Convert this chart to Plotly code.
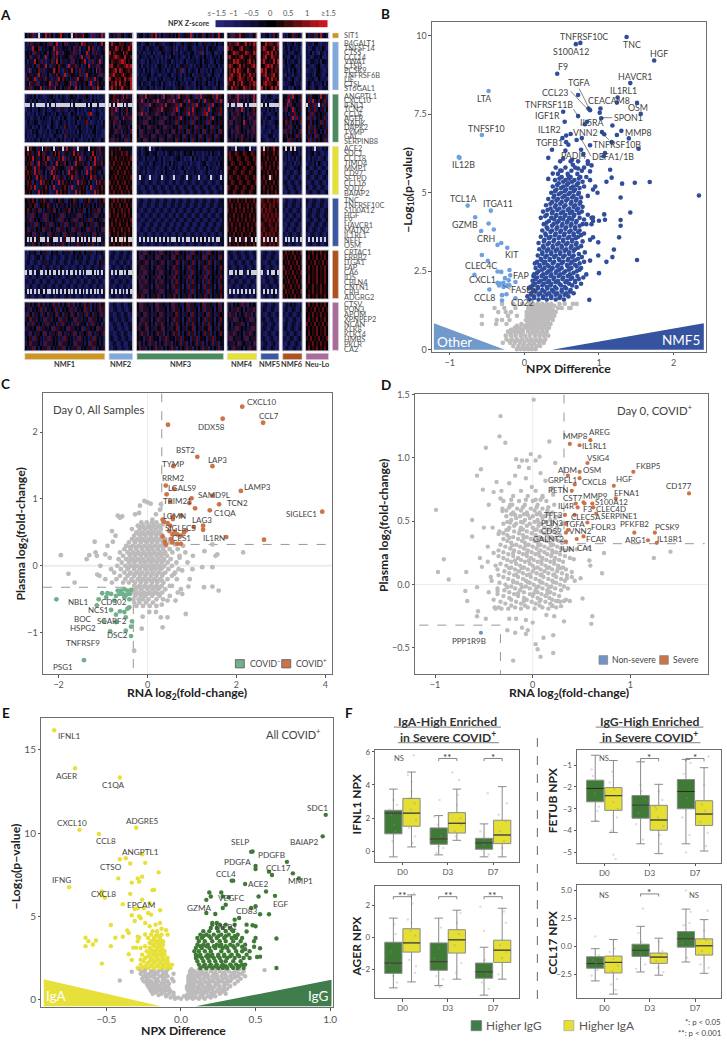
import plotly.graph_objects as go

W, H = 727, 1041
FONT = "Lato"
TXT = "#444444"
GREY = "#bdbbbc"

# ---------- Panel A data ----------
nmf_names = ["NMF1", "NMF2", "NMF3", "NMF4", "NMF5", "NMF6", "Neu-Lo"]
nmf_cols = ["#cc9420", "#7fa8dc", "#4a8a5e", "#e8e02f", "#3a57a0", "#b0521f", "#a96b9b"]
npx_levels = [-1.5, -1.25, -1, -0.75, -0.5, -0.25, 0, 0.25, 0.5, 0.75, 1, 1.25, 1.5]
npx_ticks = ["≤−1.5", "−1", "−0.5", "0", "0.5", "1", "≥1.5"]
digit_z = [-1.5, -1.2, -.9, -.6, -.3, -.05, .15, .4, .75, 1.3]

genes_sit = ["SIT1"]
genes_lblue = ["B4GALT1", "TNFSF14", "CTSS", "CCL14", "VWA1", "CTSB", "PCSK9", "TNFRSF6B", "LIF", "CTSL", "ST6GAL1"]
genes_green = ["ANGPTL1", "CXCL10", "IFNL1", "TCN2", "CCL8", "AGER", "NADK", "DAPK2", "TYMP", "GAL", "SERPINB8"]
genes_yellow = ["ACE2", "SDC1", "CCL18", "TIMD4", "MMP1", "CD97", "SFTPD", "CCL16", "SOD2", "BAIAP2"]
genes_blue = ["TNC", "TNFRSF10C", "S100A12", "HGF", "F9", "HAVCR1", "MATN2", "IL1RL1", "NEFL", "OSM"]
genes_orange = ["CRTAC1", "ERBB2", "ITGA1", "FAP", "CA6", "IDS", "CBLN4", "CNTN1", "CRH", "ADGRG2"]
genes_purple = ["CTSV", "PON3", "APOM", "XPNPEP2", "NCAN", "KLK8", "KLK14", "HMBS", "PKLR", "CA2"]

heat_sit = ["5247813.26493851347963251.48372965308172492 342718451363 2451362849315237436158234739162448253716395324 528173964371258 324513862 2315482743 62371849352"]
heat_lblue = [
"3148247354362814793258136342759384374216395 597468785378 3412452314472133452411362344325214732341523412 587389467958698 569788479 3412351343 23314521332",
"2372945816343549317264431582704336958241347 674985866797 2325314432256312341704231354213332614534312243 978465896736587 798567948 2431533241 31244132531",
"4425183742461538492714563382715349261783345 958764597856 3241322513214623351324134324513280412351132415 657988476987598 478979586 3352214431 32513204313",
"3518347146293531784246538173429531864274315 768987569468 1533243162231413154324312415331342523143425313 896576897458767 689569877 4321451323 33124435112",
"4163395728313482695173342816357394128363925 587678998575 3312415323142324513423135133342351443125234412 476989767589685 797476959 2513324413 21443241543",
"3734251864394127358364192738361425937318264 896587478989 2514324231453314243512443731324352341323514243 798567958476897 568989478 1432453123 43213452132",
"3291435827134649258317364952383174362593174 678959856787 2341524123353241342143802513431522324153231442 685979876597468 979568687 3341425314 12331453213",
"1537362948325173684329173563482719543462817 789476897568 1423345134213324512343142435132732431352214323 589768958479786 789478957 2153314323 33421543124",
"2846391375284313729586341372954618372943561 965878569789 3341253231435132343153241323513342143524133214 798658987587965 478959786 3421352134 13342153231",
"3592738146345927184336579218436375192348536 587969478659 2514331442351432131435233143215342351324153324 876958697468798 689787569 1323451332 25314332514",
"3718264495173832964157382639415327368149352 796857986769 1342352241331523341234753123314253133421352213 659787569878587 968579697 3341215343 34213521343",
]
heat_green = [
"1334251433123452314243135534133275314241332 458736294837 6283953746261957382619473825318293746582937561 384519271726394 231453123 4628194537 37165539471",
"2431425123314235321343235142353123315243213 578394827463 7392516382937361829374538293746162937461829374 273839362615392 413321354 5719263538 48293615382",
"...3.1.....2.4..3.......5.4......4.5...3... .3.4...5.1.. 6272819353728394637181946272819463628194537 .3..1...4.2.... .4.5..... 6391845372 .37281.3827",
"1324132533142134321732143235142413341253132 683915274853 6382315473829364738291547283936472829164738 372618391625385 324152413 3815392637 61738253716",
"3213241432153423153243312534132341892354213 482736153837 7193826371836253718362537193826371893253718 261738352617383 143213352 6251738362 57183635371",
"3341243142533142331425313324514243152334132 572816393728 5362718353627183536271935362718353627193536 153827361538273 332451233 4736291837 38271635382",
"1432354124332153213532413325133278312342315 368271536372 6371825363718253637182536371825363718253637 381627359362381 413312354 5827163538 47163538271",
"2334132513340253314238421331452331342512334 751628373615 7253618372536183725361837253618372536183725 273618352736183 214332143 6371835263 58271635372",
"3231435213324133253413231324153231324513321 463827153638 5183627351836273518362735183627351836273518 361728353617283 133214323 2837163528 61738352617",
"4132315324133214532148241332351423132413312 572635183726 6283735183627351836273518362735183627351836 352617383526173 321354132 4716353827 37261835372",
"2313243152331432135241323415321332415332153 381726351827 7351836273518362735183627351836273518362735 173625384736253 432133413 5618273635 48172635381",
]
heat_yellow = [
"7.4865273.48725.4376.2964381.37264.536728 4763685 241352.31452 3412.432154.31324.152314.132432153142.3124.32 7.6857964786875 6.54.7.32 3241.32143 .2314.3254.",
"5847263958174326958317432695831743269583174 685746857863 3413452345132413543134135345142331324153314 785687568756875 685746857 2341353423 32451342132",
"7586947263859172638491726358491726385941726 576857685768 2431423315324133213345231320514231342133243 687568756875687 576857685 3241324135 31423312341",
"4758162947385316294738531629473853162947385 768576857685 3213341253324132514332133241332134512332415 568756875687568 768576857 1243241324 13324153213",
"8576293847531829374653182937465318293746531 485768576857 1342413342133253134241352313342133152423134 875687568756875 857685768 2433124352 43124312431",
"6857394823516293843516293748351629384753162 657685768576 2431412331324153321433125133243312341233241 756875687568756 576857685 3312431243 12431243124",
"7685339482716359382471635938247163593824716 576857685768 2.3421.32134.13421.321342.34213.32134.1342.3 687568756875687 6857.8576 2134213421 34213421342",
"4857162393847516239384751623938475162393847 857685768576 1243124312431243124312431243124312431243124 568756875687568 768576857 3421342134 21342134213",
"5768492337586149233758614923375861492337586 685768576857 3312431243124312431243124312431243124312431 875687568756875 485768576 1342134213 42134213421",
"7685233948576123394857612339485761233948576 768576857685 2431243124312431243124312431243124312431243 756875687568756 576857685 2134213421 13421342134",
]
heat_blue = [
"5736851475836214758362147583621475836214758 578685768576 1342134213421342134213421342134213421342134 685768576857685 876876878 1342134213 42134213421",
"4627581364758362514736251473625147362514736 685768576857 2431243124312431243124312431243124312431243 768576857685768 787687867 2431243124 31243124312",
"5836274815263748152637481526374815263748152 768576857685 3213421342134213421342134213421342134213421 857685768576857 868787686 3213421342 13421342134",
"6271835347182635347182635347182635347182635 857685768576 1243124312431243124312431243124312431243124 576857685768576 787868787 1342134213 24312431243",
"4718263537182635371826353718263537182635371 576857685768 3312431243124312431243124312431243124312431 685768576857685 678787868 3312431243 12431243124",
"5362718353627183536271835362718353627183536 685768576857 2134213421342134213421342134213421342134213 768576857685768 876787687 2134213421 34213421342",
"6183725361837253618372536183725361837253618 768576857685 1342134213421342134213421342134213421342134 857685768576857 787678786 1342134213 42134213421",
"4735183627351836273518362735183627351836273 857685768576 3213421342134213421342134213421342134213421 576857685768576 868787867 3213421342 21342134213",
"4.2.4.47...3.46...1.37..4..2.5.6.4.3..5..3 4.6.7..8.6.. 3.3.4.1.3.4.2.5.1...4.3.3..2.4.3.5.4.1.3.. 5.37.6.38.47.6. 7.8.4.6.8 3.2.3.1.3. 3.3.4.2.1.3",
"5273836152738361527383615273836152738361527 768576857685 2431243124312431243124312431243124312431243 685768576857685 787687868 2431243124 13421342134",
]
heat_orange = [
"2153362153372153362143372153362153372153362 134213421342 6271835362718353627183536271835362718353627 243124312431243 134213421 6857685768 57685768576",
"1342134613421342134213421342634213421342134 243124312431 5182637351826373518263735182637351826373518 134213421342134 243124312 7685768576 68576857685",
"2431243124372431243124312431243124312431673 321342134213 7363825173638251736382517363825173638251736 321342134213421 321342134 5768576857 75768576857",
"3213421342134213421632134213421342134213421 134213421342 6382735163827351638273516382735163827351638 342134213421342 342134213 8576857685 68576857685",
".3..2.43..1.4.3..4.3.1.4..3.3.2.3...4.3.2. 3.1.4..3.4.. 5271836352718363527183635271836352718363527 3..2.4..31.4... .31.4..4. 6857685768 47576857685",
"1243124312431243124312431243124312431243124 312431243124 7381625373816253738162537381625373816253738 124312431243124 124312431 7685768576 58576857685",
"3312431243124312431243124312431243124312431 243124312431 6172835361728353617283536172835361728353617 331243124312431 213421342 5768576857 68576857685",
"2134213421342134213421342134213421342134213 321342134213 5283736152837361528373615283736152837361528 213421342134213 331243124 8576857685 75685768576",
"4.2.3.1.43.3..1.4.2.3.4.1.3.3.4.1.2.4.1.3. 4.3.3.1.2.4. 6371825363718253637182536371825363718253637 4.1.3.2.4.1.3.3 3.4.1.4.2 6857685768 57685768576",
"1342134213421342134213421342134213421342134 134213421342 7482615374826153748261537482615374826153748 134213421342134 124312431 7685768576 68576857685",
]
heat_purple = [
"3716253847162538371625384716253384716253847 124312431243 5817363258173632581736325817363258173632581 271635382716353 134213421 1342634213 68576857685",
"4271635382716353827163538271635382716353827 213421342134 6283735162837351628373516283735162837351628 162738351627383 243124312 2431243124 75768576857",
"2835173628351736283517362835173628351736283 331243124312 7351836237518362375183623751836237518362375 383716253837162 321342134 3213421342 57685768576",
"3618372536183725361837253618372536183725361 342134213421 5382736153827361538273615382736153827361538 437182635371826 342134213 1342134213 68576857685",
"5172836351728363517283635172836351728363517 124312431243 6173835261738352617383526173835261738352617 251637382516373 134213421 2431243124 85768576857",
"2736351827363518273635182736351827363518273 213421342134 7264815372648153726481537264815372648153726 362718353627183 243124312 3421342134 67576857685",
"4381627353816273538162735381627353816273538 331243124312 5383716253837162538371625383716253837162538 173826351738263 321342134 1243124312 58576857685",
"3527183634271836342718363427183634271836342 342134213421 6451738264517382645173826451738264517382645 281637352816373 342134213 3312431243 76857685768",
"2618373526183735261837352618373526183735261 124312431243 7162538371625383716253837162538371625383716 437261835372618 134213421 2134213421 57685768576",
"5373816253738162537381625373816253738162537 213421342134 5837162538371625383716253837162538371625383 162837351628373 243124312 1342134213 68576857685",
]

# ---------- Panel B data ----------
b_other = [(-.48,8.24),(-.57,6.84),(-.88,6.14),(-.87,6.11),(-.76,4.59),(-.45,4.43),(-.66,4.22),(-.48,4.02),(-.41,3.83),(-.58,3.78),
 (-.36,3.34),(-.31,3.4),(-.23,3.25),(-.57,3.02),(-.49,2.83),(-.36,2.49),(-.31,2.48),(-.2,2.54),(-.67,2.39),(-.19,2.37),(-.26,2.28),
 (-.12,2.16),(-.36,2.13),(-.32,2.11),(-.28,2.13),(-.23,2.05),(-.2,2.05),(-.47,1.92),(-.3,1.74),(-.24,1.77),(-.3,1.57),(-.12,1.64),
 (-.34,2.05),(-.28,2),(-.21,2.21)]
b_nmf5_single = [(1.37,9.96),(.75,9.77),(.69,9.73),(1.74,9.21),(.44,8.79),(1.42,8.49),(1.25,8.03),(1.24,7.87),(1.51,7.86),(1.56,7.51),(.72,8.11),
 (1.02,7.68),(1.01,7.55),(1.03,7.37),(.88,7.63),(.86,7.68),(.52,7.58),(.72,7.44),(.54,7.26),(1.18,7.14),(1.3,6.97),(1.24,6.84),(1.04,6.93),
 (1.07,6.86),(.84,7.26),(.81,7.18),(1.4,6.73),(1.53,6.4),(1.17,6.61),(.56,6.82),(.62,6.87),(.7,6.68),(.77,6.74),(.51,6.74),(.56,6.61),(.59,6.53),
 (.37,6.37),(.55,6.34),(.76,6.37),(.88,6.51),(1.08,6.26),(1.06,6.16),(.32,6.11),(.52,6.08),(.79,6.23),(.64,6.05),(.65,5.89),(.85,5.92),(.9,5.87),
 (.48,5.71),(.38,5.61),(.32,5.44),(.88,5.68),(.59,5.53),(.72,5.77),(1.15,5.73),(1.17,5.48),(1.1,5.35),(1.31,5.29),(1.48,5.32),(1.68,5.34),(2.34,4.91),
 (1.29,4.85),(1.42,4.37),(1.27,3.58),(1.51,2.86),(1.2,3.19),(1.18,2.95),(1.1,2.8),(1.29,4.13),(1.29,3.95),(1.07,4.31),(1.08,4.14),(1.0,4.11),(.87,1.59),
 (1,2.44),(.92,3.58),(.99,3),(.88,2.84),(.9,4),(.92,4.21),(.99,3.42)]
b_nmf5_rows = {
1.6:[.07,.19,.3,.42,.53],1.7:[.04,.13,.25,.36,.48,.59],1.8:[.09,.21,.33,.44,.56,.66],1.9:[.12,.24,.37,.5,.62],2.0:[.08,.18,.3,.41,.54,.7],
2.1:[.14,.26,.36,.47,.6,.76],2.2:[.11,.22,.33,.45,.57,.68],2.3:[.17,.29,.4,.52,.64,.79],2.4:[.13,.25,.36,.48,.61,.83],2.5:[.19,.32,.43,.55,.7],
2.6:[.15,.27,.38,.5,.63,.76],2.7:[.2,.31,.45,.57,.68],2.8:[.17,.28,.4,.52,.64,.8],2.9:[.22,.34,.46,.59,.72],3.0:[.18,.3,.42,.54,.66],
3.1:[.24,.36,.48,.6,.81],3.2:[.2,.32,.44,.56,.68],3.3:[.25,.38,.5,.63,.76],3.4:[.19,.33,.46,.58,.7],3.5:[.27,.4,.52,.64,.88],
3.6:[.22,.35,.47,.6,.72],3.7:[.28,.42,.54,.66,.8],3.8:[.24,.37,.49,.62,.74],3.9:[.3,.44,.56,.68],4.0:[.26,.39,.51,.63,.78,.83],
4.1:[.33,.46,.58,.7,.92],4.2:[.22,.36,.48,.6,.74,.9],4.3:[.3,.43,.55,.67,.85],4.4:[.25,.38,.52,.64,.77],4.5:[.35,.47,.6,.72],
4.6:[.29,.42,.55,.68],4.7:[.37,.5,.63,.75],4.8:[.32,.45,.58,.7],4.9:[.4,.54,.66,.85],5.0:[.36,.49,.61,.73,.98],5.1:[.43,.56,.68,.92],
5.2:[.38,.52,.65,.8,.95],5.3:[.46,.59,.72],5.4:[.41,.55,.67,.88],5.5:[.5,.62,.75,.83],5.6:[.45,.58,.71],5.8:[.42,.55,.68,.8],6.0:[.48,.62,.72,.85],
1.65:[.13,.25,.36,.47],1.75:[.09,.19,.3,.42,.54],1.85:[.15,.27,.39,.5,.61],1.95:[.06,.18,.31,.43,.56],2.05:[.11,.24,.35,.49,.64],2.15:[.19,.31,.42,.55,.68],
2.25:[.15,.27,.39,.51,.62,.73],2.35:[.12,.23,.35,.46,.58,.71],2.45:[.17,.3,.42,.53,.66],2.55:[.24,.36,.47,.6,.74],2.65:[.21,.33,.44,.58,.7],2.75:[.14,.26,.38,.5,.62,.74],
2.85:[.23,.34,.47,.58,.68],2.95:[.28,.4,.52,.64,.77],3.05:[.24,.36,.48,.6,.73],3.15:[.3,.42,.54,.66],3.25:[.26,.38,.5,.62,.72],3.35:[.31,.44,.56,.69],3.45:[.26,.39,.52,.64,.78],
3.55:[.33,.46,.58,.69],3.65:[.29,.41,.53,.66,.76],3.75:[.35,.48,.6,.72],3.85:[.31,.43,.55,.68],3.95:[.37,.5,.62,.74],4.05:[.3,.44,.57,.69],4.15:[.4,.52,.64,.8],
4.25:[.28,.42,.54,.66],4.35:[.37,.49,.61,.73],4.45:[.31,.44,.58,.7],4.55:[.41,.53,.66,.78],4.65:[.35,.48,.62,.74],4.75:[.43,.56,.69],4.85:[.39,.51,.64,.76],4.95:[.46,.59,.72],
5.05:[.41,.54,.66],5.15:[.49,.62,.74],5.25:[.44,.57,.7],5.35:[.52,.64,.78],5.45:[.47,.6,.73],5.7:[.5,.63,.77]}
b_grey_rows = {
.02:[-.1,-.05,0,.05,.1,.15],.12:[-.15,-.08,-.02,.04,.1,.16,.21],.22:[-.19,-.13,-.06,0,.07,.13,.2,.26,-.29],.33:[-.24,-.17,-.1,-.03,.03,.09,.15,.21,.28],
.45:[-.25,-.18,-.12,-.05,.01,.07,.14,.2,.26,.32],.58:[-.22,-.15,-.08,-.02,.05,.11,.17,.24,.3],.7:[-.13,-.06,.02,.08,.14,.2,.26,.33],
.82:[-.38,-.24,-.04,.04,.1,.16,.22,.28,.35,-.57],.95:[-.37,-.3,-.2,.02,.08,.14,.2,.26,.32,.38],1.08:[-.57,-.22,-.1,.03,.09,.15,.21,.27,.33,.4],
1.2:[-.35,-.25,-.18,.03,.1,.16,.22,.28,.34,.42],1.33:[-.4,-.27,-.12,.05,.11,.17,.23,.29,.35,.45,.5,.6,.62],1.46:[-.3,-.15,-.03,.07,.12,.18,.24,.3,.36,.47,.54,.65,.7],
.28:[-.2,-.13,-.07,.06,.12,.18,.24],.52:[-.19,-.11,-.04,.08,.14,.21,.28],.64:[-.18,-.11,-.03,.05,.11,.17,.23,.3],.76:[-.1,0,.05,.11,.19,.24,.3],.88:[.06,.13,.19,.25,.31],
1.02:[.06,.12,.18,.24,.3,.36],1.14:[.06,.13,.19,.25,.31,.37],1.27:[.08,.14,.2,.26,.32,.38],1.4:[.09,.15,.21,.27,.33,.4]}

# ---------- Panel C data ----------
c_covid_pos = [(2.13,2.38),(1.69,2.2),(2.6,2.14),(.46,2.11),(1.12,1.63),(1.46,1.49),(.58,1.49),(2.1,1.12),(1.46,1.05),(.41,1.2),(.6,1.15),(.43,1.07),
 (.99,1.01),(.51,.96),(.94,.94),(1.61,.92),(1.07,.86),(1.4,.83),(3.93,.81),(.56,.74),(.57,.7),(.76,.75),(.34,.69),(.37,.66),(.45,.64),(1.04,.58),
 (1.25,.6),(1.25,.54),(1.77,.43),(2.62,.39),(.34,.44),(.39,.36),(.52,.4),(.56,.47),(.61,.51),(.51,.6),(.82,.5),(.67,.47),(.56,.35),(.67,.33),(.75,.33),
 (.41,.32),(.49,.52),(.75,.45),(.86,.53)]
c_covid_neg = [(-2.05,-.5),(-1.43,-1.41),(-1.14,-.59),(-1.1,-.5),(-1.02,-.41),(-.9,-.41),(-.93,-.47),(-.82,-.42),(-.71,-.45),(-.82,-.66),(-.71,-.73),
 (-.71,-.84),(-.62,-.68),(-.52,-.69),(-.49,-.77),(-.41,-.62),(-.35,-.83),(-.45,-.64),(-.37,-.91),(-.49,-.97),(-.37,-1.05),(-.84,-.98),(-.6,-.37),
 (-.52,-.35),(-.45,-.37),(-.37,-.36),(-.67,-.37),(-.63,-.42),(-.56,-.42),(-.47,-.43),(-.4,-.42),(-.52,-.47),(-.41,-.5),(-.75,-.52),(-.97,-.83)]
c_grey_single = [(-1.95,.16),(-1.78,-.12),(-1.64,-.25),(-1.37,.1),(-1.31,.16),(-1.19,.36),(-1.17,.2),(-1.14,.15),(-1.06,0),(-1.08,-.15),(-1.13,-.13),(-.95,.17),
 (-.78,.36),(-.72,.45),(-.8,.52),(-.67,.75),(-.57,.74),(-.62,.72),(-.07,.97),(0,.95),(.07,.93),(-.17,.9),(-.28,.77),(-.19,.79),(.3,.92),(.28,.84),(.19,.77),(.11,.69),
 (.34,.62),(2.15,.2),(1.57,.17),(1.53,.15),(1.28,.22),(1.02,.15),(1.46,.32),(1.23,-.02),(1.46,-.02),(1.01,-.05),(.78,-.07),(1.46,-.31),(1.6,-.37),(1.27,-.32),
 (.92,-.31),(.75,-.35),(.78,-.42),(.63,-.52),(.45,-.52),(.32,-.58),(.86,-.72),(.34,-.92),(-.13,-.94),(-.3,-1.27),(-.11,-.76),(.04,-.69),(.19,-.69),(.3,-.77),(.45,-.77),
 (-.9,.3),(-.85,.12),(-.82,-.05),(-.95,-.2),(-.8,-.25),(.8,.3),(.9,.05),(.85,.2),(.62,.32),(.72,.12),(.66,-.2),(.6,-.12),(.55,-.3),(.68,-.4),(.95,-.2)]
c_grey_rows = {
-.6:[-.25,-.1,.05,.2],-.55:[-.3,-.18,-.03,.12],-.5:[-.32,-.2,-.1,.02,.2,.35],-.45:[-.28,-.15,-.05,.1,.27,.5],-.4:[-.3,-.2,-.08,.05,.17,.33],
-.35:[-.27,-.14,0,.12,.24,.4],-.3:[-.3,-.18,-.06,.08,.2,.32,.5],-.25:[-.55,-.42,-.28,-.15,-.03,.1,.22,.36],-.2:[-.7,-.5,-.36,-.22,-.1,.02,.15,.28,.45],
-.15:[-.62,-.45,-.3,-.17,-.05,.08,.2,.33,.55],-.1:[-.75,-.52,-.38,-.24,-.12,0,.12,.25,.4,.62],-.05:[-.6,-.45,-.3,-.18,-.05,.07,.18,.3,.47,.7],
0:[-.68,-.5,-.36,-.24,-.1,.02,.14,.26,.38,.55],.05:[-.58,-.42,-.3,-.16,-.05,.08,.2,.32,.45,.65],.1:[-.65,-.48,-.34,-.22,-.1,.02,.13,.25,.37,.52],
.15:[-.55,-.4,-.28,-.15,-.03,.08,.2,.31,.44,.72],.2:[-.62,-.45,-.32,-.2,-.08,.04,.16,.28,.4,.56],.25:[-.52,-.38,-.25,-.12,0,.11,.23,.35,.5,.68],
.3:[-.48,-.33,-.2,-.07,.05,.17,.29,.42],.35:[-.42,-.28,-.15,-.02,.1,.22,.36,.5],.4:[-.35,-.22,-.1,.03,.15,.27,.4],.45:[-.3,-.16,-.04,.08,.2,.32],
.5:[-.25,-.12,.01,.12,.25],.55:[-.35,-.18,-.06,.07,.18,.3],.6:[-.22,-.1,.03,.14,.26],.65:[-.14,-.02,.1,.2],
-.42:[-.24,-.12,0,.13,.24],-.32:[-.22,-.1,.03,.16,.28],-.22:[-.34,-.17,-.05,.08,.2,.32],-.12:[-.4,-.28,-.15,-.02,.1,.22,.34],-.02:[-.42,-.3,-.16,-.03,.1,.22,.34],.08:[-.4,-.26,-.13,0,.11,.23,.35],
.18:[-.36,-.24,-.12,0,.11,.24,.36],.28:[-.4,-.27,-.14,-.01,.11,.23,.35],.38:[-.3,-.18,-.06,.08,.2,.32],.48:[-.2,-.08,.06,.18,.3],.58:[-.14,0,.1,.22]}

# ---------- Panel D data ----------
d_severe = [(.38,1.11),(.59,1.14),(.48,1.1),(.56,.96),(.48,.89),(1.03,.89),(.36,.86),(.48,.84),(.43,.79),(.83,.78),(.4,.74),(1.6,.72),(.85,.68),(.52,.65),(.44,.64),
 (.53,.64),(.61,.64),(.46,.61),(.62,.61),(.65,.56),(.33,.55),(.43,.55),(.34,.48),(.56,.49),(1.04,.41),(1.25,.41),(.36,.43),(.34,.41),(.52,.38),(.45,.36),(.34,.34),(1.18,.35),(1.27,.33)]
d_nonsevere = [(-.53,-.38)]
d_grey_single = [(.01,1.46),(-.33,1.33),(-.34,1.17),(-.28,1.12),(-.48,1.08),(.17,1.13),(-.53,.91),(-.57,.86),(-.51,.75),(-.37,.81),(-.4,.73),(-.99,.59),(-.62,.51),(-.62,.38),(-.54,.21),
 (-.91,.2),(-.97,.1),(-.86,.04),(-.68,.1),(-.69,-.05),(-.67,-.13),(-.57,-.02),(-.57,-.25),(-.56,-.21),(-.48,-.27),(-.39,-.18),(-.38,-.19),(-.32,-.19),(-.26,-.36),(-.18,-.38),(-.24,-.27),
 (-.17,-.27),(-.07,-.28),(0,-.3),(-.11,-.34),(-.07,-.39),(-.05,-.36),(-.2,-.6),(.03,-.47),(.05,-.51),(.08,-.57),(.21,-.54),(.11,-.42),(.21,-.4),(.32,-.29),(.22,-.25),(.14,-.24),(.61,-.25),
 (.6,-.31),(.51,-.11),(.38,-.13),(.32,-.13),(.26,-.13),(.29,-.17),(.2,-.17),(.71,.09),(.73,.25),(1.24,.21),(1.41,.26),(.58,.19),(.59,.15),(.49,.05),(.43,.03),(.35,.05),(.26,.13),(.57,.29),
 (-.02,1.03),(.07,1.01),(-.11,.98),(-.17,.99),(-.06,.98),(.03,.98),(-.14,.93),(-.04,.92),(.23,.96),(.08,.88),(-.07,.84),(-.18,.86),(-.24,.8),(-.01,.77),(.13,.82),(.2,.76),(.21,.71),(.1,.69),
 (.03,.67),(-.33,.68),(-.45,.63),(-.31,.58),(-.41,.45),(-.21,.63),(-.5,.45),(-.46,.3),(-.52,.14),(-.43,.06),(-.38,.15),(-.35,.4),(-.4,.25),(-.36,-.05),(.42,.2),(.4,.1),(.38,.28),(.45,.28)]
d_grey_rows = {
-.18:[-.35,-.18,-.05,.1,.24],-.15:[-.28,-.12,.03,.18],-.12:[-.4,-.22,-.06,.08,.2,.34],-.09:[-.3,-.15,0,.13,.27],-.06:[-.45,-.24,-.09,.05,.18],
-.03:[-.36,-.18,-.03,.1,.23,.36],0:[-.28,-.12,.01,.14,.28],.03:[-.42,-.2,-.07,.07,.2,.33],.06:[-.3,-.15,-.02,.11,.24,.4],.09:[-.24,-.1,.04,.16,.3],
.12:[-.36,-.18,-.05,.08,.2,.34],.15:[-.27,-.13,0,.13,.26],.18:[-.46,-.22,-.08,.05,.18,.31],.21:[-.3,-.15,-.02,.1,.23,.38],.24:[-.25,-.1,.03,.15,.28],
.27:[-.35,-.19,-.05,.08,.2,.33],.3:[-.28,-.13,0,.12,.25],.33:[-.22,-.08,.05,.18,.3],.36:[-.3,-.15,-.02,.1,.23],.39:[-.26,-.1,.03,.15,.28],
.42:[-.34,-.19,-.06,.08,.2],.45:[-.24,-.12,0,.12,.25],.48:[-.3,-.17,-.03,.09,.3],.51:[-.22,-.08,.05,.18],.54:[-.27,-.13,0,.12,.27],.57:[-.2,-.06,.07,.2],
.6:[-.31,-.16,-.02,.1],.63:[-.23,-.08,.05,.22],.66:[-.3,-.14,.0,.14],.7:[-.2,-.05,.1],.74:[-.32,-.12,.03],
-.165:[-.22,-.08,.07,.2],-.135:[-.33,-.17,-.01,.13,.28],-.105:[-.24,-.09,.05,.17],-.075:[-.36,-.19,-.03,.09,.22],-.045:[-.29,-.13,.03,.15,.29],-.015:[-.22,-.07,.06,.19,.32],
.015:[-.34,-.16,-.03,.1,.24],.045:[-.25,-.1,.03,.16,.29],.075:[-.35,-.19,-.06,.08,.21,.35],.105:[-.29,-.14,0,.12,.25],.135:[-.22,-.09,.05,.17,.31],.165:[-.33,-.17,-.03,.09,.22],
.195:[-.26,-.12,.01,.14,.27],.225:[-.35,-.2,-.06,.07,.19,.33],.255:[-.3,-.14,-.01,.12,.24],.285:[-.23,-.09,.04,.16,.29],.315:[-.33,-.17,-.04,.08,.21],.345:[-.26,-.11,.02,.14,.27],
.375:[-.2,-.06,.07,.19],.405:[-.3,-.14,-.01,.12,.24],.435:[-.25,-.1,.04,.16],.465:[-.19,-.06,.06,.19],.495:[-.26,-.12,.02,.14],.525:[-.17,-.03,.1,.23],.555:[-.22,-.09,.04,.16],.585:[-.27,-.12,.02,.15]}
d_grey_fill = {
.02:[-.2,-.05,.08,.21],.08:[-.17,-.03,.09,.22],.13:[-.24,-.11,.02,.15,.28],.19:[-.18,-.04,.09,.22],.25:[-.2,-.06,.06,.2],.31:[-.21,-.07,.06,.19],.37:[-.24,-.09,.05,.17],
.43:[-.27,-.13,.02,.15],.49:[-.23,-.1,.06,.2],.55:[-.18,-.05,.08],.61:[-.24,-.1,.04,.16],.67:[-.22,-.07,.08],-.02:[-.26,-.11,.04,.17],-.07:[-.15,.01,.15],-.13:[-.09,.07,.24],-.19:[-.25,-.12,.02,.16]}

# ---------- Panel E data ----------
e_iga_single = [(-.85,16.17),(-.71,13.89),(-.41,13.33),(-.68,10.2),(-.55,9.94),(-.3,10.32),(-.26,8.73),(-.41,8.43),(-.37,8.49),(-.34,8.17),(-.24,8.21),(-.15,7.64),(-.42,7.28),(-.33,7.02),
 (-.29,7.28),(-.28,7.08),(-.26,7.38),(-.75,6.75),(-.53,6.49),(-.53,6.27),(-.51,6.11),(-.34,6.35),(-.19,6.57),(-.18,6.59),(-.26,6),(-.21,5.79),(-.39,5.73),(-.31,5.44),(-.29,5.48),(-.25,5.48),
 (-.22,5.2),(-.2,5.1),(-.14,5.36),(-.33,5.06),(-.28,5),(-.31,4.72),(-.27,4.88),(-.47,4.48),(-.24,4.6),(-.21,4.4),(-.17,4.5),(-.14,4.6),(-.13,4.25),(-.1,4.17),(-.09,3.9),(-.36,4.15),(-.35,4),
 (-.29,3.77),(-.44,3.71),(-.39,3.77),(-.64,3.71),(-.62,3.51),(-.64,3.21),(-.59,3.31),(-.57,3.55),(-.47,3.21),(-.32,3.12),(-.3,3.12),(-.35,2.72),(-.33,2.38),(-.53,2.16),(-.28,3.71),(-.24,3.91)]
e_iga_rows = {
1.9:[-.29,-.26,-.22,-.18,-.14,-.1,-.07],2.1:[-.27,-.23,-.19,-.15,-.12,-.08,-.06],2.3:[-.25,-.21,-.17,-.13,-.09],2.5:[-.24,-.2,-.16,-.12,-.09],2.7:[-.26,-.19,-.15,-.11],
2.9:[-.23,-.18,-.14,-.11],3.1:[-.27,-.21,-.16,-.13],3.3:[-.19,-.15,-.12],3.5:[-.29,-.2,-.16,-.12],3.7:[-.22,-.18,-.14],3.9:[-.2,-.16,-.13],4.1:[-.19,-.16],
2.0:[-.24,-.2,-.16,-.12,-.09],2.2:[-.22,-.18,-.14,-.1],2.4:[-.27,-.19,-.15,-.11],2.6:[-.22,-.17,-.13],2.8:[-.21,-.17,-.13],3.0:[-.2,-.16,-.12],3.2:[-.24,-.18,-.14],3.4:[-.21,-.17,-.14],3.6:[-.18,-.14],3.8:[-.17,-.15]}
e_igg_single = [(.97,11.09),(.95,9.8),(.47,8.87),(.48,8.89),(.71,8.27),(.5,8.02),(.5,7.84),(.59,7.68),(.61,7.48),(.75,7.58),(.79,7.28),(.34,7.14),(.35,7.14),(.43,6.94),(.57,6.49),(.52,6.19),(.63,6.23),
 (.19,6.43),(.2,6.19),(.27,6.43),(.28,6.19),(.32,6.15),(.17,5.99),(.3,5.69),(.28,5.5),(.5,5.6),(.47,5.5),(.17,5.2),(.23,5.14),(.53,5.12),(.59,5.12),(.39,4.9),(.36,4.8),(.21,4.6),(.24,4.6),(.44,4.5),
 (.48,4.46),(.5,4.4),(.34,4.2),(.44,4.09),(.64,3.67),(.64,1.9),(.5,3.7),(.49,3.5),(.53,3.08),(.49,3.17),(.51,2.56),(.53,2.58),(.43,3.02),(.41,3.17)]
e_igg_rows = {
1.9:[.13,.17,.21,.25,.28,.31,.35,.38,.42],2.1:[.12,.16,.2,.24,.28,.33,.37,.41,.43],2.3:[.11,.15,.19,.23,.27,.3,.35,.4],2.5:[.1,.14,.18,.22,.26,.31,.36,.42,.46],
2.7:[.1,.13,.18,.21,.25,.29,.34,.38,.44],2.9:[.09,.12,.16,.2,.27,.32,.37,.41,.46],3.1:[.1,.14,.19,.23,.28,.31,.36],3.3:[.11,.15,.18,.24,.27,.33,.38,.43],
3.5:[.12,.16,.21,.26,.3,.35,.4],3.7:[.11,.14,.2,.24,.29,.34,.37,.41],3.9:[.13,.17,.22,.27,.32,.38],4.1:[.15,.19,.25,.3,.35],4.3:[.2,.24,.28,.33],4.5:[.21,.26,.3,.36],
2.0:[.15,.19,.23,.27,.3,.34,.39],2.6:[.12,.17,.2,.25,.29,.33,.39],3.2:[.13,.17,.22,.26,.3,.35],3.8:[.15,.19,.25,.3,.36]}
e_grey_rows = {
.05:[-.04,0,.04,.08,.12,.16],.2:[-.1,-.05,.02,.08,.13,.18,.23],.35:[-.19,-.13,-.08,.06,.1,.15,.2,.26,.3],.5:[-.2,-.16,-.11,-.07,.05,.09,.14,.18,.24,.29],
.65:[-.21,-.17,-.12,-.08,.04,.08,.13,.19,.25,.31],.8:[-.22,-.18,-.14,-.09,.04,.09,.15,.2,.26,.33],.95:[-.23,-.19,-.13,-.08,.05,.09,.14,.19,.25,.31,.36],
1.1:[-.25,-.2,-.15,-.09,-.05,.05,.1,.16,.21,.27,.33,.38],1.25:[-.26,-.22,-.16,-.11,-.06,.05,.09,.15,.22,.28,.34,.4],1.4:[-.25,-.2,-.14,-.09,.05,.1,.16,.21,.27,.33,.38,.43],
1.55:[-.27,-.21,-.16,-.1,-.05,.06,.11,.15,.22,.28,.34,.39,.41],1.7:[-.26,-.2,-.15,-.1,.06,.09,.14,.2,.26,.32,.37,.42],1.82:[-.28,-.24,-.18,-.13,-.09,.07,.12,.17,.23,.3,.39],
.12:[-.07,-.02,.06,.1,.15,.2],.28:[-.15,-.1,-.05,.04,.09,.14,.22],.42:[-.17,-.13,-.05,.07,.12,.17,.22,.27],.58:[-.18,-.14,-.09,.06,.11,.16,.21,.27],.72:[-.2,-.15,-.1,.06,.11,.17,.22,.29],
.88:[-.2,-.16,-.11,.07,.12,.18,.23,.29],1.02:[-.22,-.17,-.11,.07,.12,.17,.23,.29],1.18:[-.23,-.17,-.12,.07,.13,.19,.25,.31],1.32:[-.23,-.18,-.12,.07,.12,.18,.24,.3,.36],
1.48:[-.23,-.18,-.12,.08,.13,.18,.24,.3,.36],1.62:[-.24,-.18,-.12,.08,.12,.17,.23,.29,.35]}
e_grey_single = [(-.41,1.15),(-.33,1.67),(.56,1.77)]

# ---------- Panel F data: (q1, median, q3, lower whisker, upper whisker) ----------
ifnl1_box = [(1.05,2.3,2.47,-.34,3.75),(1.51,2.3,3.19,.26,4.78),(.42,.74,1.41,-.22,2.15),(1.1,1.69,2.33,.66,3.75),(.12,.5,.78,-.34,1.65),(.46,.98,1.87,-.34,3.9)]
fetub_box = [(-2.68,-2.07,-1.69,-3.57,-.55),(-3.07,-2.4,-2.03,-4.08,-.79),(-3.43,-2.83,-2.39,-4.6,-.85),(-3.98,-3.51,-2.84,-5.05,-1.88),(-3.0,-2.21,-1.66,-4.6,-.74),(-3.76,-3.24,-2.63,-4.93,-1.12)]
ager_box = [(-2.24,-1.6,-.31,-3.14,1.19),(-.92,-.35,.53,-2.77,2.63),(-2.05,-1.52,-.35,-3.0,1.19),(-.98,-.16,.47,-2.6,1.68),(-2.54,-2.15,-1.6,-3.59,-.62),(-1.56,-.8,-.18,-2.6,1.8)]
ccl17_box = [(-1.95,-1.54,-.92,-3.08,-.2),(-2.37,-1.42,-.86,-4.26,.62),(-.89,-.33,.2,-2.28,1.8),(-1.51,-.95,-.59,-2.57,.74),(-.06,.68,1.33,-1.39,3.34),(-.77,.06,.68,-2.4,2.4)]
ifnl1_strip = [(-.25,2.2),(-.15,1.2),(-.2,3.1),(-.22,.6),(-.18,1.6),(-.12,2.8),(-.28,2.5),(.12,4.6),(.2,3.6),(.27,2.9),(.15,1.4),(.22,.5),(.3,1.9),(.18,2.5),(.25,5.8),(.28,.9),(.2,4.2),(.16,3.2),
 (.8,.3),(.75,-.1),(.85,.9),(.78,1.6),(.9,.2),(.7,2.1),(.82,3.1),(1.15,1.2),(1.2,2.8),(1.3,1.6),(1.25,4.3),(1.18,.9),(1.28,2),(1.22,3.4),(1.1,4.75),(1.75,.1),(1.82,.7),(1.9,-.2),(1.72,1.2),(1.88,3.5),(1.8,.4),
 (2.15,1.2),(2.2,.2),(2.28,1.8),(2.12,2.2),(2.24,.6),(2.3,2.9)]
fetub_strip = [(-.25,-1.5),(-.15,-3.1),(-.2,-2.3),(-.28,-1.2),(-.12,-2.9),(-.18,-3.55),(.12,-1.8),(.2,-2.7),(.28,-3.4),(.15,-4),(.22,-2.1),(.3,-3),(.18,-1.3),(.25,-5.3),(.2,-5.1),(.28,-2.4),
 (.8,-1.9),(.75,-3.2),(.85,-4.4),(.9,-2.6),(.7,-3.7),(.82,-2.2),(1.15,-3),(1.2,-2.2),(1.3,-3.8),(1.25,-4.6),(1.18,-3.4),(1.28,-2.6),(1.22,-4.2),(1.12,-2.9),(1.75,-1.4),(1.82,-2.5),(1.9,-.9),(1.72,-3.4),(1.88,-4.2),(1.8,-5),
 (2.15,-2.8),(2.2,-1.9),(2.28,-4.1),(2.12,-3.6),(2.24,-4.7),(2.3,-.6),(2.22,-3.1)]
ager_strip = [(-.25,-.9),(-.15,.2),(-.2,-2.4),(-.28,-1.7),(-.12,-2.8),(-.18,.8),(.12,1.1),(.2,-.3),(.28,.1),(.15,-1.4),(.22,2.1),(.3,-1.8),(.18,.4),(.25,2.7),(.28,-2.2),(.2,.9),(.8,-.7),(.75,-2.4),(.85,.6),(.9,-2.6),(.7,-1.3),(.82,-3.1),
 (1.15,-.5),(1.2,.9),(1.3,-1.6),(1.25,.2),(1.18,-2.2),(1.28,1.5),(1.22,-.1),(1.75,-2.8),(1.82,-1.4),(1.9,-3.2),(1.72,1.9),(1.88,-2.3),(1.8,.4),(2.15,-.5),(2.2,-1.3),(2.28,.9),(2.12,-2.3),(2.24,1.6),(2.3,-.9)]
ccl17_strip = [(-.25,-1.2),(-.15,-2.1),(-.2,.9),(-.28,-2.6),(-.12,-.8),(-.18,-1.5),(.12,-.5),(.2,-1.1),(.28,-2.9),(.15,-3.4),(.22,-.2),(.3,-1.7),(.18,-2.2),(.25,-3.9),(.8,-.6),(.75,1.2),(.85,3.4),(.9,-1.6),(.7,-2),(.82,.4),
 (1.15,-1.3),(1.2,.4),(1.3,-2.3),(1.25,-.7),(1.18,-1.9),(1.28,-.4),(1.75,1.9),(1.82,-1),(1.9,3.1),(1.72,.3),(1.88,2.1),(1.8,5),(2.15,-.4),(2.2,1.4),(2.28,3.2),(2.12,-1.6),(2.24,.6),(2.3,-1.9)]

# ---------- Label text and placement ----------
ORIG = {"A": (0, 0), "B": (375, 0), "C": (0, 370), "D": (365, 370), "E": (0, 695), "F": (345, 695)}
def P(panel, zx, zy):
    ox, oy = ORIG[panel]
    return ox + zx / 3, oy + zy / 3

b_labels = [("TNFRSF10C",638,91),("TNC",781,116),("S100A12",597,138),("HGF",864,144),("F9",573,184),("HAVCR1",791,212),("TGFA",622,232),("IL1RL1",756,255),("CCL23",550,261),("LTA",334,280),
 ("CEACAM8",712,285),("TNFRSF11B",531,299),("OSM",800,306),("IGF1R",528,332),("SPON1",770,338),("IL5RA",660,352),("IL1R2",533,373),("VNN2",642,382),("MMP8",800,382),("TNFSF10",344,370),
 ("TGFB1",534,412),("TNFRSF10B",736,418),("PADI4",605,451),("DEFA1/1B",725,456),("IL12B",273,479),("TCL1A",272,583),("ITGA11",378,599),("GZMB",277,661),("CRH",342,703),("KIT",420,753),
 ("CLEC4C",327,785),("FAP",446,815),("CXCL1",331,827),("FASLG",455,858),("CCL8",336,882),("CD22",450,896)]
b_leaders = [(597,258,650,315),(622,250,655,315),(605,312,620,335),(688,338,722,338),(685,378,712,405),(630,405,658,455),(392,845,415,858)]
c_labels = [("CXCL10",788,88),("CCL7",810,132),("DDX58",638,165),("BST2",561,235),("LAP3",656,263),("TYMP",521,277),("RRM2",521,318),("LAMP3",776,345),("LGALS9",550,348),("SAMD9L",647,371),
 ("TCN2",717,394),("TRIM21",536,387),("C1QA",680,425),("SIGLEC1",909,426),("LGMN",527,432),("LAG3",610,444),("SIGLEC5",545,470),("CES1",548,500),("IL1RN",646,500),("NBL1",234,693),
 ("CD302",344,695),("NCS1",296,719),("BOC",250,745),("SCARF2",337,750),("HSPG2",251,773),("DSC2",353,793),("TNFRSF9",250,817),("PSG1",190,890)]
d_labels = [("MMP8",640,192),("AREG",712,179),("IL1RL1",699,221),("VSIG4",711,259),("ADM",616,295),("OSM",691,295),("FKBP5",861,283),("GRPEL1",601,324),("CXCL8",697,330),("HGF",788,322),
 ("RETN",589,356),("CD177",954,342),("EFNA1",797,363),("MMP9",700,372),("CST7",631,380),("S100A12",750,392),("IL4R",612,404),("F3",680,412),("CLEC4D",749,412),("TFF3",576,429),("SERPINE1",775,432),
 ("CLEC5A",673,437),("PLIN3",570,453),("TGFA",640,458),("PFKFB2",820,458),("VNN2",656,478),("FOLR3",727,467),("PCSK9",920,468),("CD59",568,478),("GALNT2",561,503),("FCAR",703,502),("ARG1",821,505),
 ("IL18R1",927,503),("JUN",615,534),("CA1",670,530),("PPP1R9B",320,811)]
e_labels = [("IFNL1",208,123),("AGER",203,244),("C1QA",343,272),("SDC1",958,342),("CXCL10",216,387),("ADGRE5",431,380),("CCL8",321,443),("SELP",723,446),("BAIAP2",918,446),("ANGPTL1",425,474),
 ("PDGFB",818,483),("PDGFA",716,504),("CTSO",336,520),("CCL17",841,524),("CCL4",682,541),("IFNG",187,560),("MMP1",905,562),("ACE2",779,573),("CXCL8",312,603),("VEGFC",698,614),("EGF",848,631),
 ("EPCAM",424,636),("GZMA",603,646),("CD83",745,653),("MEP1",683,703)]

def expand(rows, singles=()):
    xs, ys = [], []
    for y, vals in rows.items():
        for x in vals:
            xs.append(x); ys.append(y)
    for x, y in singles:
        xs.append(x); ys.append(y)
    return xs, ys

fig = go.Figure()
shapes, anns = [], []

def ann(text, x, y, size=8, color=TXT, anchor="center", bold=False, angle=0):
    anns.append(dict(text=f"<b>{text}</b>" if bold else text, x=x, y=y, xref="x", yref="y", showarrow=False, textangle=angle,
                     xanchor=anchor, yanchor="middle", font=dict(size=size, color=color, family=FONT)))

def rect(x0, y0, x1, y1, fill, line=None, lw=0.8, layer="above"):
    shapes.append(dict(type="rect", xref="x", yref="y", x0=x0, y0=y0, x1=x1, y1=y1, fillcolor=fill,
                       line=dict(color=line or fill, width=lw), layer=layer))

def seg(x0, y0, x1, y1, color, width=0.8, dash="solid"):
    shapes.append(dict(type="line", xref="x", yref="y", x0=x0, y0=y0, x1=x1, y1=y1, line=dict(color=color, width=width, dash=dash)))

def wedge(pts, fill):
    path = "M " + " L ".join(f"{x:.1f},{y:.1f}" for x, y in pts) + " Z"
    shapes.append(dict(type="path", xref="x", yref="y", path=path, fillcolor=fill, line=dict(width=0), layer="above"))

def dots(xs, ys, color, size, xa, ya, opacity=1.0):
    fig.add_trace(go.Scatter(x=xs, y=ys, mode="markers", marker=dict(color=color, size=size, opacity=opacity, line=dict(width=0)),
                             xaxis=xa, yaxis=ya, showlegend=False, hoverinfo="skip"))

def lines(xs, ys, color, width, xa, ya, dash="solid"):
    fig.add_trace(go.Scatter(x=xs, y=ys, mode="lines", line=dict(color=color, width=width, dash=dash), xaxis=xa, yaxis=ya, showlegend=False, hoverinfo="skip"))

def xy(pts):
    return [p[0] for p in pts], [p[1] for p in pts]

# ---------- Panel A ----------
CS = [[0, "#242478"], [0.17, "#181858"], [0.33, "#0e0e38"], [0.5, "#000000"], [0.67, "#3e0a0e"], [0.83, "#861018"], [1, "#c8171e"]]
col_spans = [(25, 105.3), (109.7, 133.3), (137.7, 224.7), (228.7, 258), (262.3, 280.3), (284.3, 303.7), (307.7, 330.3)]
col_ncol = [43, 12, 44, 15, 9, 10, 11]
groups = [(heat_sit, genes_sit, 27.3, 32.3, "#cc9420"), (heat_lblue, genes_lblue, 36.3, 84.7, "#7fa8dc"), (heat_green, genes_green, 89, 137.3, "#4a8a5e"),
          (heat_yellow, genes_yellow, 141.7, 190, "#e8e02f"), (heat_blue, genes_blue, 194, 242.3, "#3a57a0"), (heat_orange, genes_orange, 246.7, 295, "#b0521f"),
          (heat_purple, genes_purple, 299, 347.3, "#a96b9b")]
for rows, genes, y0, y1, gc in groups:
    rect(334.3, y0, 340.3, y1, gc, "#d8d8d8", 0.5)
    n = len(genes)
    for i, g in enumerate(genes):
        ly = (y0 + y1) / 2 if n == 1 else y0 + 2 + i * (y1 - y0 - 3) / (n - 1)
        ann(g, 344.3, ly, 7.4, "#555555", "left")
    split = [r.split() for r in rows]
    for b, (x0, x1) in enumerate(col_spans):
        nc = col_ncol[b]
        z = []
        for parts in split:
            s = (parts[b] + "4" * nc)[:nc]
            z.append([None if c == "." else digit_z[int(c)] for c in s])
        rect(x0 - .5, y0 - .5, x1 + .5, y1 + .5, "#cfcfd6", "#b7b4c6", 0.8, layer="below")
        dx = (x1 - x0) / nc
        dy = (y1 - y0) / n
        fig.add_trace(go.Heatmap(z=z, x0=x0 + dx / 2, dx=dx, y0=y0 + dy / 2, dy=dy, zmin=-1.5, zmax=1.5, colorscale=CS, showscale=False,
                                 xaxis="x", yaxis="y", hoverinfo="skip"))
for (x0, x1), name, col in zip(col_spans, nmf_names, nmf_cols):
    rect(x0, 350.3, x1, 356.7, col, "#d9d9d9", 0.6)
    ann(name, (x0 + x1) / 2, 362, 7.4, "#333333", bold=True)
cb_dx = (329.3 - 216.7) / len(npx_levels)
fig.add_trace(go.Heatmap(z=[npx_levels], x0=216.7 + cb_dx / 2, dx=cb_dx, y0=18, dy=7.4, zmin=-1.5, zmax=1.5, colorscale=CS, showscale=False,
                         xaxis="x", yaxis="y", hoverinfo="skip"))
for t, zx in zip(npx_ticks, [653, 703, 758, 815, 870, 927, 990]):
    ann(t, zx / 3, 7.5, 7.5, "#555555")
ann("NPX Z-score", 212, 18, 7.3, "#333333", "right", bold=True)

# ---------- Panel B ----------
wedge([P("B", 184, 960), P("B", 184, 1040), P("B", 398, 1040)], "#7199c9")
wedge([P("B", 998, 960), P("B", 998, 1040), P("B", 540, 1040)], "#35539e")
dots(*expand(b_grey_rows), GREY, 4.6, "x2", "y2")
dots(*xy(b_other), "#6fa0de", 4.6, "x2", "y2")
dots(*expand(b_nmf5_rows, b_nmf5_single), "#2f4d9c", 4.6, "x2", "y2")
for t, zx, zy in b_labels:
    ann(t, *P("B", zx, zy), 8.8)
for a, b, c, d in b_leaders:
    seg(*P("B", a, b), *P("B", c, d), "#333333", 0.6)
ann("Other", *P("B", 245, 1018), 13.5, "white")
ann("NMF5", *P("B", 930, 1012), 13.5, "white")

# ---------- Panel C ----------
for sp in [dict(x0=0, x1=0, y0=-1.62, y1=2.58, w=1), dict(x0=-2.35, x1=4.16, y0=0, y1=0, w=2)]:
    lines([sp["x0"], sp["x1"]], [sp["y0"], sp["y1"]], "#ececec", sp["w"], "x3", "y3")
dash_c = "#8c8c8c"
lines([.32, .32, 4.16], [2.58, .32, .32], dash_c, 0.9, "x3", "y3", "dash")
lines([-2.35, -.32, -.32], [-.32, -.32, -1.62], dash_c, 0.9, "x3", "y3", "dash")
dots(*expand(c_grey_rows, c_grey_single), GREY, 4.8, "x3", "y3")
dots(*xy(c_covid_neg), "#72b08c", 4.8, "x3", "y3")
dots(*xy(c_covid_pos), "#cc7448", 4.8, "x3", "y3")
for t, zx, zy in c_labels:
    ann(t, *P("C", zx, zy), 8)
ann("Day 0, All Samples", *P("C", 155, 112), 11.4, "#444444", "left")
rect(*P("C", 710, 868), *P("C", 737, 893), "#72b08c", "#555555", 0.8)
ann("COVID<sup>−</sup>", *P("C", 748, 879), 8.6, "#444444", "left")
rect(*P("C", 850, 868), *P("C", 877, 893), "#cc7448", "#555555", 0.8)
ann("COVID<sup>+</sup>", *P("C", 888, 879), 8.6, "#444444", "left")

# ---------- Panel D ----------
lines([0, 0], [-.707, 1.5], "#ececec", 1, "x4", "y4")
lines([-1.205, 1.79], [0, 0], "#ececec", 1, "x4", "y4")
lines([.32, .32, 1.76], [1.5, .323, .323], dash_c, 0.9, "x4", "y4", "dash")
lines([-1.16, -.33, -.33], [-.32, -.32, -.707], dash_c, 0.9, "x4", "y4", "dash")
dots(*expand({**d_grey_rows, **d_grey_fill}, d_grey_single), GREY, 4.4, "x4", "y4")
dots(*xy(d_nonsevere), "#6f95c8", 4.2, "x4", "y4")
dots(*xy(d_severe), "#cc7448", 4.2, "x4", "y4")
for t, zx, zy in d_labels:
    ann(t, *P("D", zx, zy), 8)
ann("Day 0, COVID<sup>+</sup>", *P("D", 1003, 110), 11.4, "#444444", "right")
rect(*P("D", 712, 856), *P("D", 738, 882), "#6f95c8", "#888888", 0.8)
ann("Non-severe", *P("D", 745, 869), 8.6, "#444444", "left")
rect(*P("D", 895, 856), *P("D", 921, 882), "#cc7448", "#888888", 0.8)
ann("Severe", *P("D", 928, 869), 8.6, "#444444", "left")

# ---------- Panel E ----------
wedge([P("E", 132, 860), P("E", 132, 942), P("E", 485, 942)], "#e8e03a")
wedge([P("E", 1000, 862), P("E", 1000, 942), P("E", 590, 942)], "#3f7d4c")
dots(*expand(e_grey_rows, e_grey_single), GREY, 4.4, "x5", "y5")
dots(*expand(e_iga_rows, e_iga_single), "#e8e03a", 4.4, "x5", "y5")
dots(*expand(e_igg_rows, e_igg_single), "#3f7a36", 4.4, "x5", "y5")
for t, zx, zy in e_labels:
    ann(t, *P("E", zx, zy), 8.2)
ann("All COVID<sup>+</sup>", *P("E", 975, 117), 11, "#444444", "right")
ann("IgA", *P("E", 170, 911), 13.5, "white")
ann("IgG", *P("E", 958, 911), 13.5, "white")

# ---------- Panel F ----------
box_pos = [-.2, .2, .8, 1.2, 1.8, 2.2]
box_fill = ["#3f7a36", "#e6df33"] * 3
def boxes(data, strip, xa, ya):
    for pos, (q1, med, q3, lo, hi), fill in zip(box_pos, data, box_fill):
        fig.add_trace(go.Box(x=[pos], q1=[q1], median=[med], q3=[q3], lowerfence=[lo], upperfence=[hi], width=.38, fillcolor=fill,
                             line=dict(color="#8a8a8a", width=1), xaxis=xa, yaxis=ya, showlegend=False, hoverinfo="skip", boxpoints=False))
        lines([pos - .19, pos + .19], [med, med], "#2b2b1a", 1, xa, ya)
    dots(*xy(strip), "#8f8f8f", 2.4, xa, ya, 0.3)
boxes(ifnl1_box, ifnl1_strip, "x6", "y6")
boxes(fetub_box, fetub_strip, "x7", "y7")
boxes(ager_box, ager_strip, "x8", "y8")
boxes(ccl17_box, ccl17_strip, "x9", "y9")

def bracket(xa, ya, c, top, foot):
    lines([c - .2, c - .2, c + .2, c + .2], [foot, top, top, foot], "#666666", 0.8, xa, ya)
brk = [("x6", "y6", 1, 5.6, 5.44, "**", 315, 183), ("x6", "y6", 2, 5.6, 5.44, "*", 452, 183),
       ("x7", "y7", 1, -.7, -.83, "*", 924, 183), ("x7", "y7", 2, -.7, -.83, "*", 1062, 183),
       ("x8", "y8", 0, 2.52, 2.36, "**", 178, 601), ("x8", "y8", 1, 2.52, 2.36, "**", 318, 601), ("x8", "y8", 2, 2.52, 2.36, "**", 451, 601),
       ("x9", "y9", 1, 4.7, 4.47, "*", 924, 593)]
for xa, ya, c, top, foot, star, zx, zy in brk:
    bracket(xa, ya, c, top, foot)
    ann(star, *P("F", zx, zy + 4), 10, "#333333")
for zx, zy in [(168, 190), (787, 190), (787, 604), (1060, 604)]:
    ann("NS", *P("F", zx, zy), 7.6, "#555555")
for txt, zx, zy in [("IgA-High Enriched", 314, 80), ("in Severe COVID<sup>+</sup>", 316, 127), ("IgG-High Enriched", 924, 80), ("in Severe COVID<sup>+</sup>", 925, 127)]:
    ann(txt, *P("F", zx, zy), 12.2, "#333333", bold=True)
for a, b, y in [(153, 476, 97), (165, 470, 144), (762, 1087, 97), (773, 1078, 144)]:
    seg(*P("F", a, y), *P("F", b, y), "#999999", 1.3)
seg(*P("F", 586, 130), *P("F", 586, 930), "#555555", 0.9, "dash")
rect(*P("F", 386, 985), *P("F", 418, 1016), "#3f7d4c", "#777777", 0.6)
ann("Higher IgG", *P("F", 425, 999), 11.8, "#555555", "left")
rect(*P("F", 666, 985), *P("F", 696, 1016), "#e6df33", "#999999", 0.6)
ann("Higher IgA", *P("F", 706, 999), 11.8, "#555555", "left")
ann("*: p &lt; 0.05", *P("F", 1145, 990), 7.8, "#444444", "right")
ann("**: p &lt; 0.001", *P("F", 1145, 1023), 7.8, "#444444", "right")

# ---------- Axis titles ----------
TT = "#222222"
ann("NPX Difference", *P("B", 590, 1098), 12.2, TT, bold=True)
ann("−Log<sub>10</sub>(p−value)", *P("B", 105, 557), 12.2, TT, bold=True, angle=-90)
ann("RNA log<sub>2</sub>(fold-change)", 188, 693, 12.2, TT, bold=True)
ann("Plasma log<sub>2</sub>(fold-change)", *P("C", 65, 488), 12.2, TT, bold=True, angle=-90)
ann("RNA log<sub>2</sub>(fold-change)", 572, 693, 12.2, TT, bold=True)
ann("Plasma log<sub>2</sub>(fold-change)", *P("D", 65, 462), 12.2, TT, bold=True, angle=-90)
ann("NPX Difference", *P("E", 555, 1015), 12.2, TT, bold=True)
ann("−Log<sub>10</sub>(p−value)", *P("E", 50, 520), 12.2, TT, bold=True, angle=-90)
ann("IFNL1 NPX", *P("F", 40, 330), 12, TT, bold=True, angle=-90)
ann("FETUB NPX", *P("F", 632, 320), 12, TT, bold=True, angle=-90)
ann("AGER NPX", *P("F", 40, 760), 12, TT, bold=True, angle=-90)
ann("CCL17 NPX", *P("F", 632, 750), 12, TT, bold=True, angle=-90)

# ---------- Panel letters ----------
for t, x, y in [("A", 6, 9), ("B", 388, 8), ("C", 6, 381), ("D", 388, 382), ("E", 6, 713), ("F", 351, 713)]:
    ann(t, x, y, 13.5, "#111111", bold=True)

# ---------- Axes ----------
def axes(idx, px0, px1, py0, py1, xr, yr, xticks, xtext, yticks, ytext, tsize=8.3):
    base = dict(showgrid=False, zeroline=False, showline=True, mirror=True, linecolor="#6e6e6e", linewidth=1, ticks="outside", ticklen=2.5, tickwidth=0.8,
                tickcolor="#555555", tickfont=dict(size=tsize, color="#555555", family=FONT), layer="above traces")
    xa = dict(base, domain=[px0 / W, px1 / W], range=xr, tickmode="array", tickvals=xticks, ticktext=xtext, anchor=f"y{idx}")
    ya = dict(base, domain=[1 - py1 / H, 1 - py0 / H], range=yr, tickmode="array", tickvals=yticks, ticktext=ytext, anchor=f"x{idx}")
    return {f"xaxis{idx}": xa, f"yaxis{idx}": ya}

lay = dict(xaxis=dict(domain=[0, 1], range=[0, W], visible=False, fixedrange=True), yaxis=dict(domain=[0, 1], range=[H, 0], visible=False, fixedrange=True))
lay.update(axes(2, 434.3, 710, 15.7, 349, [-1.24, 2.436], [-.07, 10.45], [-1, 0, 1, 2], ["−1", "0", "1", "2"], [0, 2.5, 5, 7.5, 10], ["0", "2.5", "5", "7.5", "10"], tsize=9))
lay.update(axes(3, 43.3, 334.3, 390.7, 674, [-2.35, 4.16], [-1.62, 2.58], [-2, 0, 2, 4], ["−2", "0", "2", "4"], [-1, 0, 1, 2], ["−1", "0", "1", "2"], tsize=9))
lay.update(axes(4, 417.3, 711.7, 391.7, 674, [-1.205, 1.792], [-.707, 1.502], [-1, 0, 1], ["−1", "0", "1"], [-.5, 0, .5, 1, 1.5], ["−0.5", "0.0", "0.5", "1.0", "1.5"], tsize=9))
lay.update(axes(5, 41.7, 335, 718.3, 1010, [-.935, 1.02], [-.46, 16.9], [-.5, 0, .5, 1], ["−0.5", "0.0", "0.5", "1.0"], [0, 5, 10, 15], ["0", "5", "10", "15"], tsize=10))
days = [0, 1, 2]; day_txt = ["D0", "D3", "D7"]
lay.update(axes(6, 377.3, 522.3, 750, 863.3, [-.6, 2.58], [-.64, 6.14], days, day_txt, [0, 2, 4, 6], ["0", "2", "4", "6"], tsize=8))
lay.update(axes(7, 580.3, 725.3, 750.7, 864.3, [-.6, 2.58], [-5.47, -.32], days, day_txt, [-5, -4, -3, -2, -1], ["−5", "−4", "−3", "−2", "−1"], tsize=8))
lay.update(axes(8, 377.3, 522.3, 887.7, 1001, [-.6, 2.58], [-3.79, 3.18], days, day_txt, [-2, 0, 2], ["−2", "0", "2"], tsize=8))
lay.update(axes(9, 580.3, 725.3, 886.3, 1001, [-.6, 2.58], [-4.64, 5.53], days, day_txt, [-2.5, 0, 2.5, 5], ["−2.5", "0.0", "2.5", "5.0"], tsize=8))

fig.update_layout(width=W, height=H, margin=dict(l=0, r=0, t=0, b=0), autosize=False, paper_bgcolor="white", plot_bgcolor="white", showlegend=False,
                  font=dict(family=FONT), shapes=shapes, annotations=anns, **lay)
fig.write_html("out.html", config={"displayModeBar": False}, post_script="document.body.style.margin='0';document.body.style.overflow='hidden';")
